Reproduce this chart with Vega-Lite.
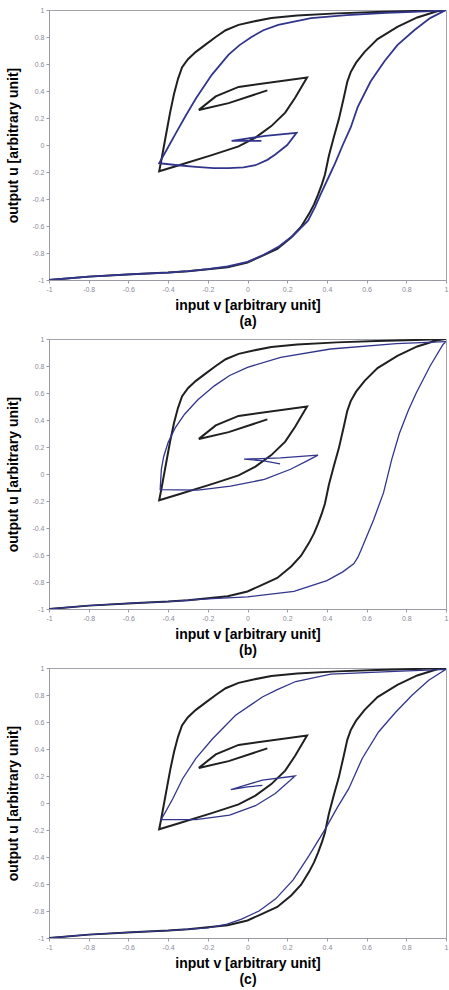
{
  "$schema": "https://vega.github.io/schema/vega-lite/v6.json",
  "background": "white",
  "padding": {"left": 6, "top": 5, "right": 0, "bottom": 0},
  "spacing": 59,
  "bounds": "flush",
  "config": {
    "view": {"stroke": "#a3a3ad", "strokeWidth": 1},
    "axis": {
      "grid": false,
      "labelFont": "Liberation Sans",
      "labelFontSize": 7,
      "labelColor": "#8a8a96",
      "tickColor": "#9a9aa5",
      "tickSize": 3,
      "labelPadding": 2,
      "domainColor": "#9a9aa5",
      "titleFont": "Liberation Sans",
      "titleFontSize": 14,
      "titleFontWeight": "bold",
      "titleColor": "#000000",
      "values": [-1, -0.8, -0.6, -0.4, -0.2, 0, 0.2, 0.4, 0.6, 0.8, 1],
      "labelExpr": "'' + datum.value",
      "labelOverlap": false,
      "labelFlush": false
    }
  },
  "datasets": {
    "black": [
      {"i": 1, "v": -1, "u": -1},
      {"i": 2, "v": -0.8, "u": -0.975},
      {"i": 3, "v": -0.58, "u": -0.957},
      {"i": 4, "v": -0.4, "u": -0.945},
      {"i": 5, "v": -0.3, "u": -0.935},
      {"i": 6, "v": -0.2, "u": -0.92},
      {"i": 7, "v": -0.1, "u": -0.905},
      {"i": 8, "v": 0.0, "u": -0.87},
      {"i": 9, "v": 0.06, "u": -0.83},
      {"i": 10, "v": 0.15, "u": -0.77},
      {"i": 11, "v": 0.22, "u": -0.685},
      {"i": 12, "v": 0.27, "u": -0.605},
      {"i": 13, "v": 0.31, "u": -0.51},
      {"i": 14, "v": 0.335, "u": -0.44},
      {"i": 15, "v": 0.355, "u": -0.37},
      {"i": 16, "v": 0.375, "u": -0.29},
      {"i": 17, "v": 0.39, "u": -0.22},
      {"i": 18, "v": 0.41, "u": -0.08},
      {"i": 19, "v": 0.435, "u": 0.06},
      {"i": 20, "v": 0.46, "u": 0.19},
      {"i": 21, "v": 0.485, "u": 0.35},
      {"i": 22, "v": 0.503, "u": 0.47},
      {"i": 23, "v": 0.52, "u": 0.54},
      {"i": 24, "v": 0.547, "u": 0.61},
      {"i": 25, "v": 0.59, "u": 0.69},
      {"i": 26, "v": 0.655, "u": 0.785},
      {"i": 27, "v": 0.755, "u": 0.875},
      {"i": 28, "v": 0.855, "u": 0.945},
      {"i": 29, "v": 0.955, "u": 0.99},
      {"i": 30, "v": 1, "u": 1},
      {"i": 31, "v": 0.85, "u": 0.993},
      {"i": 32, "v": 0.65, "u": 0.985},
      {"i": 33, "v": 0.45, "u": 0.975},
      {"i": 34, "v": 0.25, "u": 0.96},
      {"i": 35, "v": 0.12, "u": 0.94},
      {"i": 36, "v": 0.03, "u": 0.915},
      {"i": 37, "v": -0.045, "u": 0.89},
      {"i": 38, "v": -0.11, "u": 0.85},
      {"i": 39, "v": -0.16, "u": 0.8},
      {"i": 40, "v": -0.21, "u": 0.745},
      {"i": 41, "v": -0.26, "u": 0.69},
      {"i": 42, "v": -0.3, "u": 0.635},
      {"i": 43, "v": -0.33, "u": 0.575},
      {"i": 44, "v": -0.35, "u": 0.49},
      {"i": 45, "v": -0.37, "u": 0.38},
      {"i": 46, "v": -0.39, "u": 0.24},
      {"i": 47, "v": -0.405, "u": 0.12},
      {"i": 48, "v": -0.42, "u": 0.0},
      {"i": 49, "v": -0.435, "u": -0.12},
      {"i": 50, "v": -0.445, "u": -0.195},
      {"i": 51, "v": -0.345, "u": -0.15},
      {"i": 52, "v": -0.18, "u": -0.075},
      {"i": 53, "v": -0.045, "u": -0.01},
      {"i": 54, "v": 0.04, "u": 0.055},
      {"i": 55, "v": 0.12, "u": 0.14},
      {"i": 56, "v": 0.19, "u": 0.24},
      {"i": 57, "v": 0.24, "u": 0.35},
      {"i": 58, "v": 0.3, "u": 0.5},
      {"i": 59, "v": -0.045, "u": 0.43},
      {"i": 60, "v": -0.16, "u": 0.36},
      {"i": 61, "v": -0.245, "u": 0.26},
      {"i": 62, "v": -0.095, "u": 0.31},
      {"i": 63, "v": 0.1, "u": 0.405}
    ],
    "blue": [
      {"p": "a", "i": 1, "v": -1, "u": -1},
      {"p": "a", "i": 2, "v": -0.8, "u": -0.975},
      {"p": "a", "i": 3, "v": -0.58, "u": -0.957},
      {"p": "a", "i": 4, "v": -0.4, "u": -0.945},
      {"p": "a", "i": 5, "v": -0.3, "u": -0.935},
      {"p": "a", "i": 6, "v": -0.2, "u": -0.92},
      {"p": "a", "i": 7, "v": -0.1, "u": -0.9},
      {"p": "a", "i": 8, "v": 0.0, "u": -0.865},
      {"p": "a", "i": 9, "v": 0.08, "u": -0.815},
      {"p": "a", "i": 10, "v": 0.16, "u": -0.75},
      {"p": "a", "i": 11, "v": 0.23, "u": -0.67},
      {"p": "a", "i": 12, "v": 0.305, "u": -0.56},
      {"p": "a", "i": 13, "v": 0.34, "u": -0.46},
      {"p": "a", "i": 14, "v": 0.37, "u": -0.36},
      {"p": "a", "i": 15, "v": 0.405, "u": -0.25},
      {"p": "a", "i": 16, "v": 0.44, "u": -0.14},
      {"p": "a", "i": 17, "v": 0.48, "u": 0.0},
      {"p": "a", "i": 18, "v": 0.52, "u": 0.13},
      {"p": "a", "i": 19, "v": 0.555, "u": 0.28},
      {"p": "a", "i": 20, "v": 0.62, "u": 0.47},
      {"p": "a", "i": 21, "v": 0.69, "u": 0.62},
      {"p": "a", "i": 22, "v": 0.755, "u": 0.74},
      {"p": "a", "i": 23, "v": 0.84, "u": 0.85},
      {"p": "a", "i": 24, "v": 0.92, "u": 0.94},
      {"p": "a", "i": 25, "v": 1, "u": 1},
      {"p": "a", "i": 26, "v": 0.9, "u": 0.99},
      {"p": "a", "i": 27, "v": 0.7, "u": 0.978},
      {"p": "a", "i": 28, "v": 0.5, "u": 0.962},
      {"p": "a", "i": 29, "v": 0.32, "u": 0.94},
      {"p": "a", "i": 30, "v": 0.155, "u": 0.89},
      {"p": "a", "i": 31, "v": 0.08, "u": 0.85},
      {"p": "a", "i": 32, "v": 0.02, "u": 0.8},
      {"p": "a", "i": 33, "v": -0.04, "u": 0.74},
      {"p": "a", "i": 34, "v": -0.095, "u": 0.67},
      {"p": "a", "i": 35, "v": -0.18, "u": 0.52},
      {"p": "a", "i": 36, "v": -0.26, "u": 0.345},
      {"p": "a", "i": 37, "v": -0.31, "u": 0.22},
      {"p": "a", "i": 38, "v": -0.36, "u": 0.09},
      {"p": "a", "i": 39, "v": -0.405, "u": -0.03},
      {"p": "a", "i": 40, "v": -0.445, "u": -0.135},
      {"p": "a", "i": 41, "v": -0.35, "u": -0.15},
      {"p": "a", "i": 42, "v": -0.26, "u": -0.162},
      {"p": "a", "i": 43, "v": -0.17, "u": -0.172},
      {"p": "a", "i": 44, "v": -0.095, "u": -0.172},
      {"p": "a", "i": 45, "v": -0.02, "u": -0.165},
      {"p": "a", "i": 46, "v": 0.04, "u": -0.15},
      {"p": "a", "i": 47, "v": 0.1, "u": -0.11},
      {"p": "a", "i": 48, "v": 0.14, "u": -0.07},
      {"p": "a", "i": 49, "v": 0.2, "u": 0.0},
      {"p": "a", "i": 50, "v": 0.247, "u": 0.09},
      {"p": "a", "i": 51, "v": 0.09, "u": 0.068},
      {"p": "a", "i": 52, "v": -0.08, "u": 0.03},
      {"p": "a", "i": 53, "v": 0.07, "u": 0.03},

      {"p": "b", "i": 1, "v": -1, "u": -1},
      {"p": "b", "i": 2, "v": -0.8, "u": -0.975},
      {"p": "b", "i": 3, "v": -0.58, "u": -0.957},
      {"p": "b", "i": 4, "v": -0.4, "u": -0.945},
      {"p": "b", "i": 5, "v": -0.2, "u": -0.925},
      {"p": "b", "i": 6, "v": 0.0, "u": -0.91},
      {"p": "b", "i": 7, "v": 0.234, "u": -0.87},
      {"p": "b", "i": 8, "v": 0.4, "u": -0.79},
      {"p": "b", "i": 9, "v": 0.48, "u": -0.725},
      {"p": "b", "i": 10, "v": 0.535, "u": -0.665},
      {"p": "b", "i": 11, "v": 0.555, "u": -0.62},
      {"p": "b", "i": 12, "v": 0.57, "u": -0.57},
      {"p": "b", "i": 13, "v": 0.635, "u": -0.34},
      {"p": "b", "i": 14, "v": 0.685, "u": -0.14},
      {"p": "b", "i": 15, "v": 0.727, "u": 0.11},
      {"p": "b", "i": 16, "v": 0.765, "u": 0.3},
      {"p": "b", "i": 17, "v": 0.81, "u": 0.47},
      {"p": "b", "i": 18, "v": 0.85, "u": 0.6},
      {"p": "b", "i": 19, "v": 0.92, "u": 0.8},
      {"p": "b", "i": 20, "v": 0.985, "u": 0.96},
      {"p": "b", "i": 21, "v": 1, "u": 0.98},
      {"p": "b", "i": 22, "v": 0.75, "u": 0.965},
      {"p": "b", "i": 23, "v": 0.418, "u": 0.926},
      {"p": "b", "i": 24, "v": 0.167, "u": 0.864},
      {"p": "b", "i": 25, "v": 0.0, "u": 0.79},
      {"p": "b", "i": 26, "v": -0.09, "u": 0.73},
      {"p": "b", "i": 27, "v": -0.167, "u": 0.653},
      {"p": "b", "i": 28, "v": -0.25, "u": 0.55},
      {"p": "b", "i": 29, "v": -0.317, "u": 0.443},
      {"p": "b", "i": 30, "v": -0.365, "u": 0.34},
      {"p": "b", "i": 31, "v": -0.4, "u": 0.233},
      {"p": "b", "i": 32, "v": -0.422, "u": 0.13},
      {"p": "b", "i": 33, "v": -0.434, "u": 0.035},
      {"p": "b", "i": 34, "v": -0.44, "u": -0.115},
      {"p": "b", "i": 35, "v": -0.25, "u": -0.12},
      {"p": "b", "i": 36, "v": -0.085, "u": -0.09},
      {"p": "b", "i": 37, "v": 0.085, "u": -0.04},
      {"p": "b", "i": 38, "v": 0.217, "u": 0.035},
      {"p": "b", "i": 39, "v": 0.3, "u": 0.097},
      {"p": "b", "i": 40, "v": 0.355, "u": 0.14},
      {"p": "b", "i": 41, "v": 0.167, "u": 0.12},
      {"p": "b", "i": 42, "v": -0.017, "u": 0.11},
      {"p": "b", "i": 43, "v": 0.083, "u": 0.097},
      {"p": "b", "i": 44, "v": 0.164, "u": 0.075},

      {"p": "c", "i": 1, "v": -1, "u": -1},
      {"p": "c", "i": 2, "v": -0.8, "u": -0.975},
      {"p": "c", "i": 3, "v": -0.58, "u": -0.957},
      {"p": "c", "i": 4, "v": -0.4, "u": -0.945},
      {"p": "c", "i": 5, "v": -0.2, "u": -0.925},
      {"p": "c", "i": 6, "v": -0.11, "u": -0.9},
      {"p": "c", "i": 7, "v": -0.03, "u": -0.86},
      {"p": "c", "i": 8, "v": 0.058, "u": -0.8},
      {"p": "c", "i": 9, "v": 0.142, "u": -0.71},
      {"p": "c", "i": 10, "v": 0.23, "u": -0.57},
      {"p": "c", "i": 11, "v": 0.31, "u": -0.39},
      {"p": "c", "i": 12, "v": 0.393, "u": -0.19},
      {"p": "c", "i": 13, "v": 0.45, "u": -0.04},
      {"p": "c", "i": 14, "v": 0.51, "u": 0.106},
      {"p": "c", "i": 15, "v": 0.578, "u": 0.33},
      {"p": "c", "i": 16, "v": 0.66, "u": 0.526},
      {"p": "c", "i": 17, "v": 0.745, "u": 0.67},
      {"p": "c", "i": 18, "v": 0.83, "u": 0.8},
      {"p": "c", "i": 19, "v": 0.913, "u": 0.91},
      {"p": "c", "i": 20, "v": 1, "u": 0.99},
      {"p": "c", "i": 21, "v": 0.745, "u": 0.975},
      {"p": "c", "i": 22, "v": 0.42, "u": 0.955},
      {"p": "c", "i": 23, "v": 0.243, "u": 0.9},
      {"p": "c", "i": 24, "v": 0.15, "u": 0.84},
      {"p": "c", "i": 25, "v": 0.075, "u": 0.785},
      {"p": "c", "i": 26, "v": -0.06, "u": 0.65},
      {"p": "c", "i": 27, "v": -0.176, "u": 0.476},
      {"p": "c", "i": 28, "v": -0.26, "u": 0.33},
      {"p": "c", "i": 29, "v": -0.327, "u": 0.18},
      {"p": "c", "i": 30, "v": -0.377, "u": 0.03},
      {"p": "c", "i": 31, "v": -0.435, "u": -0.123},
      {"p": "c", "i": 32, "v": -0.26, "u": -0.123},
      {"p": "c", "i": 33, "v": -0.09, "u": -0.09},
      {"p": "c", "i": 34, "v": 0.04, "u": -0.02},
      {"p": "c", "i": 35, "v": 0.14, "u": 0.07},
      {"p": "c", "i": 36, "v": 0.24, "u": 0.2},
      {"p": "c", "i": 37, "v": 0.075, "u": 0.17},
      {"p": "c", "i": 38, "v": -0.084, "u": 0.1},
      {"p": "c", "i": 39, "v": 0.0, "u": 0.12},
      {"p": "c", "i": 40, "v": 0.075, "u": 0.13}
    ]
  },
  "vconcat": [
    {
      "width": 397,
      "height": 270,
      "layer": [
        {
          "data": {"name": "black"},
          "mark": {"type": "line", "color": "#1f2022", "strokeWidth": 2, "clip": true},
          "encoding": {
            "x": {"field": "v", "type": "quantitative", "scale": {"domain": [-1, 1], "nice": false, "zero": false},
                  "axis": {"title": ["input v [arbitrary unit]", "(a)"], "titlePadding": 6, "titleLineHeight": 16}},
            "y": {"field": "u", "type": "quantitative", "scale": {"domain": [-1, 1], "nice": false, "zero": false},
                  "axis": {"title": "output u [arbitrary unit]", "titlePadding": 11}},
            "order": {"field": "i", "type": "quantitative"}
          }
        },
        {
          "data": {"name": "blue"},
          "transform": [{"filter": "datum.p == 'a'"}],
          "mark": {"type": "line", "color": "#32358c", "strokeWidth": 1.8, "clip": true},
          "encoding": {
            "x": {"field": "v", "type": "quantitative"},
            "y": {"field": "u", "type": "quantitative"},
            "order": {"field": "i", "type": "quantitative"}
          }
        }
      ]
    },
    {
      "width": 397,
      "height": 270,
      "layer": [
        {
          "data": {"name": "black"},
          "mark": {"type": "line", "color": "#1f2022", "strokeWidth": 2, "clip": true},
          "encoding": {
            "x": {"field": "v", "type": "quantitative", "scale": {"domain": [-1, 1], "nice": false, "zero": false},
                  "axis": {"title": ["input v [arbitrary unit]", "(b)"], "titlePadding": 6, "titleLineHeight": 16}},
            "y": {"field": "u", "type": "quantitative", "scale": {"domain": [-1, 1], "nice": false, "zero": false},
                  "axis": {"title": "output u [arbitrary unit]", "titlePadding": 11}},
            "order": {"field": "i", "type": "quantitative"}
          }
        },
        {
          "data": {"name": "blue"},
          "transform": [{"filter": "datum.p == 'b'"}],
          "mark": {"type": "line", "color": "#32358c", "strokeWidth": 1.3, "clip": true},
          "encoding": {
            "x": {"field": "v", "type": "quantitative"},
            "y": {"field": "u", "type": "quantitative"},
            "order": {"field": "i", "type": "quantitative"}
          }
        }
      ]
    },
    {
      "width": 397,
      "height": 270,
      "layer": [
        {
          "data": {"name": "black"},
          "mark": {"type": "line", "color": "#1f2022", "strokeWidth": 2, "clip": true},
          "encoding": {
            "x": {"field": "v", "type": "quantitative", "scale": {"domain": [-1, 1], "nice": false, "zero": false},
                  "axis": {"title": ["input v [arbitrary unit]", "(c)"], "titlePadding": 6, "titleLineHeight": 16}},
            "y": {"field": "u", "type": "quantitative", "scale": {"domain": [-1, 1], "nice": false, "zero": false},
                  "axis": {"title": "output u [arbitrary unit]", "titlePadding": 11}},
            "order": {"field": "i", "type": "quantitative"}
          }
        },
        {
          "data": {"name": "blue"},
          "transform": [{"filter": "datum.p == 'c'"}],
          "mark": {"type": "line", "color": "#32358c", "strokeWidth": 1.3, "clip": true},
          "encoding": {
            "x": {"field": "v", "type": "quantitative"},
            "y": {"field": "u", "type": "quantitative"},
            "order": {"field": "i", "type": "quantitative"}
          }
        }
      ]
    }
  ]
}
